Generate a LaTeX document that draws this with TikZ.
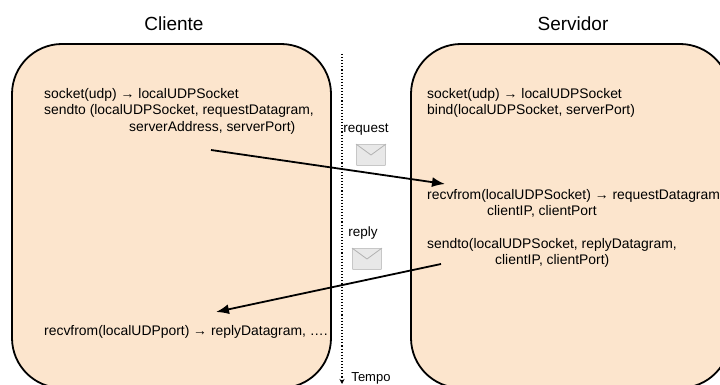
\documentclass[tikz,border=0pt]{standalone}
\usepackage{fontspec}
\setmainfont{Liberation Sans}
\usetikzlibrary{arrows.meta}
\definecolor{peach}{RGB}{252,229,205}
\tikzset{
  procbox/.style={draw=black,line width=1.8pt,fill=peach,rounded corners=50pt},
  code/.style={font=\fontsize{13.9}{16.6}\selectfont,anchor=north west,inner sep=0pt,align=left},
  title/.style={font=\fontsize{19}{21}\selectfont,inner sep=0pt},
  msg/.style={font=\fontsize{13.5}{15}\selectfont,inner sep=0pt},
  flow/.style={draw=black,line width=1.8pt,-{Latex[length=13pt,width=10pt]}},
  envel/.style={draw=black!22,fill=black!9,line width=.8pt,minimum width=29pt,minimum height=21pt,inner sep=0pt,rounded corners=.8pt}
}
\begin{document}
\begin{tikzpicture}[x=1pt,y=-1pt]
\useasboundingbox (0,0) rectangle (720,385);
\begin{scope}
\clip (0,0) rectangle (720,385);
\fill[white] (0,0) rectangle (720,385);
\draw[procbox] (12,44) rectangle (331,388);
\draw[procbox] (411,44) rectangle (730,388);
\coordinate (t0) at (342,54);
\coordinate (t1) at (342,384);
\draw[line width=1.1pt,dotted,-{Stealth[length=5pt,width=5pt]}] (t0) -- (t1);
\node[title] (cl) at (174,24) {Cliente};
\node[title] (sv) at (573,24) {Servidor};
\node[code] (c1) at (44,88) {socket(udp) → localUDPSocket\\sendto (localUDPSocket, requestDatagram,\\\hspace*{85pt}serverAddress, serverPort)};
\node[code] (c2) at (44,325) {recvfrom(localUDPport) → replyDatagram, ….};
\node[code] (s1) at (427,88) {socket(udp) → localUDPSocket\\bind(localUDPSocket, serverPort)};
\node[code] (s2) at (427,189) {recvfrom(localUDPSocket) → requestDatagram\\\hspace*{60pt}clientIP, clientPort};
\node[code] (s3) at (427,238) {sendto(localUDPSocket, replyDatagram,\\\hspace*{68pt}clientIP, clientPort)};
\node[msg] (rq) at (366,130) {request};
\node[msg] (rp) at (363,233) {reply};
\node[font=\fontsize{13}{14}\selectfont,inner sep=0pt] (tp) at (371,378) {Tempo};
\foreach \n/\x/\y in {ea/371/155,eb/367/259}{
  \node[envel] (\n) at (\x,\y) {};
  \draw[black!30,line width=.8pt,line join=round] (\n.north west) -- (\n.center) -- (\n.north east);
}
\coordinate (a1) at (211,150);
\coordinate (a2) at (445,184);
\coordinate (b1) at (441,264);
\coordinate (b2) at (216,312);
\draw[flow] (a1) -- (a2);
\draw[flow] (b1) -- (b2);
\end{scope}
\end{tikzpicture}
\end{document}
